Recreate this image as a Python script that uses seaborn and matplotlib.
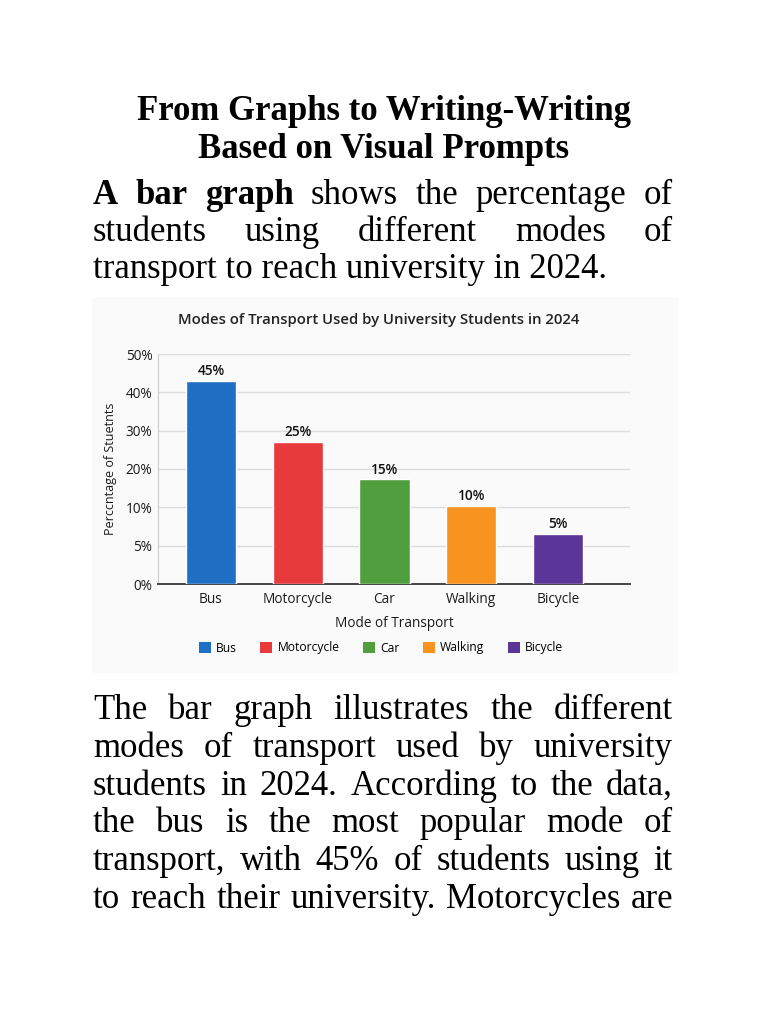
import numpy as np
import pandas as pd
import seaborn as sns
import matplotlib.pyplot as plt
from matplotlib.patches import Patch, Rectangle

# chart data
modes = ['Bus', 'Motorcycle', 'Car', 'Walking', 'Bicycle']
bar_heights = [43.0, 27.1, 17.3, 10.4, 6.5]   # as drawn in the picture
value_labels = ['45%', '25%', '15%', '10%', '5%']
colors = ['#1f6fc5', '#e63a3c', '#519e3e', '#f7931e', '#5c3598']
y_ticks = [0, 5, 10, 20, 30, 40, 50]
y_tick_labels = ['0%', '5%', '10%', '20%', '30%', '40%', '50%']

page_title = ['From Graphs to Writing-Writing', 'Based on Visual Prompts']
intro_lines = [
    [('A', 'bold'), ('bar', 'bold'), ('graph', 'bold'), ('shows', 'normal'), ('the', 'normal'),
     ('percentage', 'normal'), ('of', 'normal')],
    'students using different modes of',
    'transport to reach university in 2024.',
]
body_lines = [
    'The bar graph illustrates the different',
    'modes of transport used by university',
    'students in 2024. According to the data,',
    'the bus is the most popular mode of',
    'transport, with 45% of students using it',
    'to reach their university. Motorcycles are',
]

W, H = 768, 1024
sns.set_style('white')
plt.rcParams['font.family'] = ['Open Sans', 'DejaVu Sans']
plt.rcParams['text.color'] = 'black'

fig = plt.figure(figsize=(W / 100, H / 100), dpi=100)
fig.patch.set_facecolor('white')
renderer = fig.canvas.get_renderer()

SERIF = 'Liberation Serif'
BODY = 25


def fy(y):
    return 1 - y / H


# page title
for i, line in enumerate(page_title):
    fig.text(384 / W, fy(120 + 37.5 * i), line, family=SERIF, fontsize=BODY,
             weight='bold', ha='center', va='baseline')


def draw_line(words, y, justify=True, x0=93, x1=673):
    if not justify:
        fig.text(x0 / W, fy(y), ' '.join(w for w, _ in words), family=SERIF,
                 fontsize=BODY, va='baseline')
        return
    arts = [fig.text(0, fy(y), w, family=SERIF, fontsize=BODY, weight=wt, va='baseline')
            for w, wt in words]
    widths = [a.get_window_extent(renderer).width for a in arts]
    gap = (x1 - x0 - sum(widths)) / (len(arts) - 1)
    x = x0
    for a, w in zip(arts, widths):
        a.set_x(x / W)
        x += w + gap


def as_words(line):
    if isinstance(line, str):
        return [(w, 'normal') for w in line.split()]
    return line


for i, line in enumerate(intro_lines):
    draw_line(as_words(line), 203.5 + 37.5 * i, justify=(i < len(intro_lines) - 1))

for i, line in enumerate(body_lines):
    draw_line(as_words(line), 719 + 37.8 * i)

# chart picture background
fig.patches.append(Rectangle((92 / W, fy(673)), 586 / W, 376 / H, transform=fig.transFigure,
                             facecolor='#fafafa', edgecolor='none', zorder=-5))

fig.text(379 / W, fy(320), 'Modes of Transport Used by University Students in 2024',
         fontsize=10.7, weight='semibold', ha='center', va='center', color='#222222')

ax = fig.add_axes([158 / W, fy(584), 472 / W, 230 / H])
ax.set_facecolor('none')

# uneven tick spacing of the original: each tick is one step
idx = np.arange(len(y_ticks))
ax.set_yscale('function', functions=(lambda v: np.interp(v, y_ticks, idx),
                                     lambda v: np.interp(v, idx, y_ticks)))

df = pd.DataFrame({'Mode': modes, 'Share': bar_heights})
sns.barplot(data=df, x='Mode', y='Share', hue='Mode', palette=colors, legend=False,
            width=0.58, saturation=1, ax=ax, zorder=3)

ax.set_ylim(0, 50)
ax.set_xlim(-0.61, 4.83)
ax.set_yticks(y_ticks)
ax.set_yticklabels(y_tick_labels)
ax.yaxis.grid(True, color='#dddddd', linewidth=1, zorder=0)
ax.set_axisbelow(True)
ax.tick_params(axis='both', length=0, labelsize=9.8, colors='#1a1a1a', pad=4)
ax.tick_params(axis='x', pad=6)

for s in ['top', 'right']:
    ax.spines[s].set_visible(False)
ax.spines['left'].set_color('#cccccc')
ax.spines['bottom'].set_color('#444444')
ax.spines['bottom'].set_linewidth(1.4)

for i, (h, lab) in enumerate(zip(bar_heights, value_labels)):
    ax.annotate(lab, (i, h), xytext=(0, 2), textcoords='offset points', ha='center',
                va='bottom', fontsize=9.8, weight='semibold', color='#111111')

ax.set_xlabel('Mode of Transport', fontsize=9.8, labelpad=6, color='#1a1a1a')
ax.set_ylabel('Perccntage of Stuetnts', fontsize=9.0, labelpad=6, color='#1a1a1a')

handles = [Patch(facecolor=c, edgecolor='none') for c in colors]
fig.legend(handles, modes, loc='center', bbox_to_anchor=(381 / W, fy(648)), ncol=5,
           frameon=False, fontsize=8.7, handlelength=1.0, handleheight=1.0,
           handletextpad=0.45, columnspacing=1.9)

fig.savefig('out.png', dpi=100, facecolor='white')
